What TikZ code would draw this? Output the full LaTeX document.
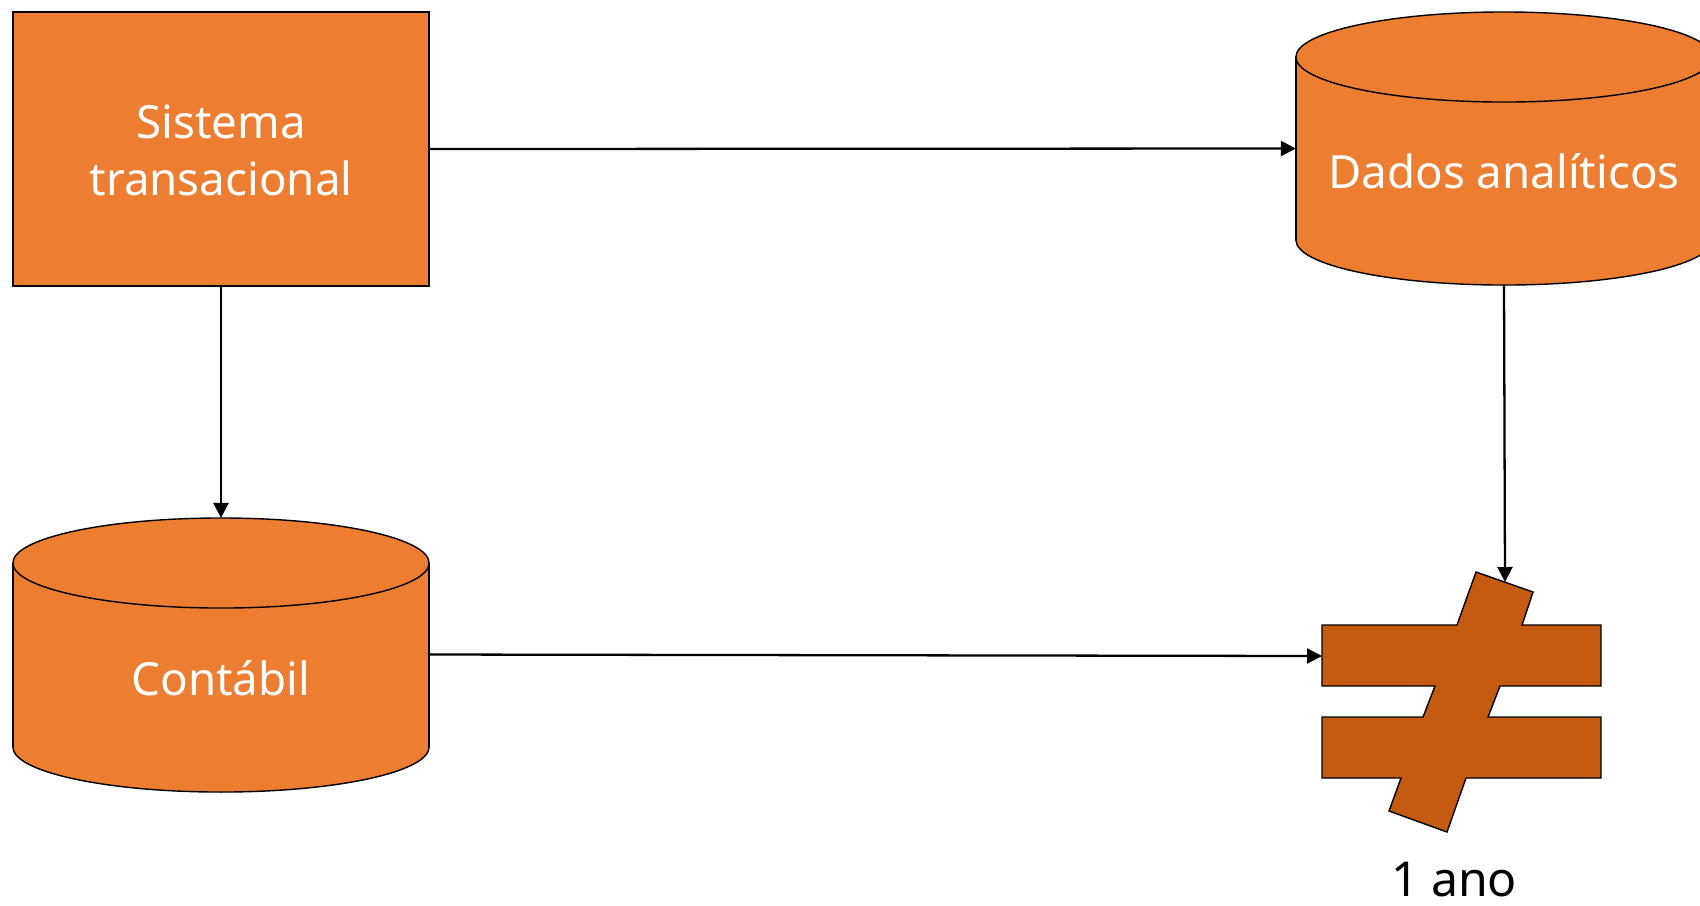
\documentclass[tikz,border=0pt]{standalone}
\usepackage{fontspec}
\setmainfont{Noto Sans}
\usetikzlibrary{arrows.meta}
\definecolor{orangeA}{HTML}{ED7D31}
\definecolor{orangeB}{HTML}{C55A11}
\begin{document}
\begin{tikzpicture}[x=0.01cm,y=-0.01cm,
  lbl/.style={font=\fontsize{13}{16.2}\selectfont, text=white, align=center, inner sep=0pt},
  anchorbox/.style={draw=none, inner sep=0pt, outer sep=0pt},
  outline/.style={draw=black, line width=0.4pt},
  conn/.style={line width=0.65pt, -{Triangle[length=1.5mm,width=1.5mm]}}
]
\useasboundingbox (0,0) rectangle (1700,905);

% Sistema transacional
\node[anchorbox, outline, fill=orangeA, minimum width=4.16cm, minimum height=2.74cm] (sys) at (221,149) {};
\node[lbl] (syslbl) at (221,150) {Sistema\\transacional};

% Contabil cylinder
\filldraw[outline, fill=orangeA] (221,747) ellipse [x radius=2.08cm, y radius=0.45cm];
\fill[orangeA] (13,563) rectangle (429,747);
\draw[outline] (13,563) -- (13,747) (429,563) -- (429,747);
\filldraw[outline, fill=orangeA] (221,563) ellipse [x radius=2.08cm, y radius=0.45cm];
\node[anchorbox, minimum width=4.16cm, minimum height=2.73cm] (cont) at (221,654.5) {};
\node[lbl] (contlbl) at (221,678) {Contábil};

% Dados analiticos cylinder
\filldraw[outline, fill=orangeA] (1504,240) ellipse [x radius=2.08cm, y radius=0.45cm];
\fill[orangeA] (1296,57) rectangle (1712,240);
\draw[outline] (1296,57) -- (1296,240) (1712,57) -- (1712,240);
\filldraw[outline, fill=orangeA] (1504,57) ellipse [x radius=2.08cm, y radius=0.45cm];
\node[anchorbox, minimum width=4.16cm, minimum height=2.73cm] (dados) at (1504,148.5) {};
\node[lbl] (dadoslbl) at (1504,171) {Dados analíticos};

% Not-equal sign
\filldraw[outline, fill=orangeB] (1476,572) -- (1533,592) -- (1522,625) -- (1601,625) -- (1601,686) -- (1500,686) -- (1488,717) -- (1601,717) -- (1601,778) -- (1466,778) -- (1447,832) -- (1389,811) -- (1401,778) -- (1322,778) -- (1322,717) -- (1423,717) -- (1435,686) -- (1322,686) -- (1322,625) -- (1457,625) -- cycle;
\coordinate (neqL) at (1322,656);
\coordinate (neqT) at (1505,582);
\node[inner sep=0pt, font=\fontsize{13.7}{16.2}\selectfont] (ano) at (1454,880) {1 ano};

% connectors
\draw[conn] (sys.east) -- (dados.west);
\draw[conn] (sys.south) -- (cont.north);
\draw[conn] (cont.east) -- (neqL);
\draw[conn] (dados.south) -- (neqT);
\end{tikzpicture}
\end{document}
